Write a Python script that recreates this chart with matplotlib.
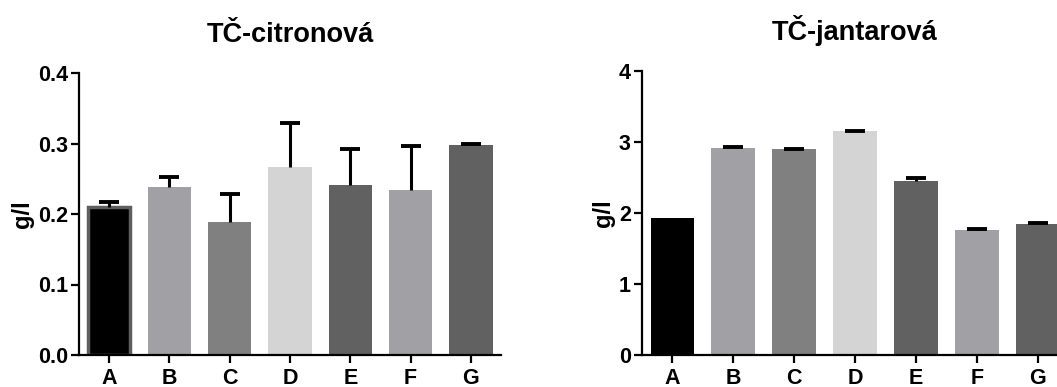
import numpy as np
import matplotlib
matplotlib.use('Agg')
import matplotlib.pyplot as plt

plt.rcParams['font.family'] = ['Liberation Sans', 'DejaVu Sans']
plt.rcParams['font.weight'] = 'bold'

# data
categories = ['A', 'B', 'C', 'D', 'E', 'F', 'G']
citronova = [0.210, 0.238, 0.189, 0.266, 0.241, 0.234, 0.298]
citronova_err = [0.0075, 0.0145, 0.040, 0.063, 0.051, 0.062, 0.0008]
jantarova = [1.93, 2.915, 2.895, 3.155, 2.455, 1.756, 1.85]
jantarova_err = [0.0, 0.01, 0.01, 0.004, 0.04, 0.02, 0.015]

colors = ['#000000', '#a1a0a4', '#808080', '#d4d4d4', '#616161', '#a1a0a4', '#616161']

fig = plt.figure(figsize=(10.57, 3.87), dpi=100)
ax1 = fig.add_axes([79 / 1057, 32 / 387, 422 / 1057, 282 / 387])
ax2 = fig.add_axes([642 / 1057, 32 / 387, 426 / 1057, 284 / 387])


def draw(ax, vals, errs, title, ymax, yticks, ytlabels, first_edge):
    x = np.arange(len(categories))
    vals = np.array(vals)
    errs = np.array(errs)
    bars = ax.bar(x, vals, width=0.72, color=colors, zorder=2)
    if first_edge:
        bars[0].set_edgecolor('#5f5f5f')
        bars[0].set_linewidth(2.5)
        bars[0].set_width(0.69)
        bars[0].set_x(-0.345)
    # upper error bars only (line + cap on top)
    m = errs > 0
    ax.vlines(x[m], vals[m], vals[m] + errs[m], color='black', linewidth=2.2, zorder=3)
    ax.plot(x[m], vals[m] + errs[m], linestyle='none', marker='_', markersize=14,
            markeredgewidth=2.8, color='black', zorder=3)
    ax.set_xlim(-0.5, 6.5)
    ax.set_ylim(0, ymax)
    ax.set_xticks(x)
    ax.set_xticklabels(categories)
    ax.set_yticks(yticks)
    ax.set_yticklabels(ytlabels)
    for s in ['top', 'right']:
        ax.spines[s].set_visible(False)
    for s in ['left', 'bottom']:
        ax.spines[s].set_linewidth(1.6)
    ax.tick_params(axis='both', width=1.6, length=6, labelsize=15.5)
    ax.tick_params(axis='x', pad=3)
    ax.tick_params(axis='y', pad=2)
    ax.set_ylabel('g/l', fontsize=17, fontweight='bold', labelpad=3)
    ax.set_title(title, fontsize=19.5, fontweight='bold', pad=22)


draw(ax1, citronova, citronova_err, 'TČ-citronová', 0.4,
     [0, 0.1, 0.2, 0.3, 0.4], ['0.0', '0.1', '0.2', '0.3', '0.4'], True)
draw(ax2, jantarova, jantarova_err, 'TČ-jantarová', 4,
     [0, 1, 2, 3, 4], ['0', '1', '2', '3', '4'], False)

fig.savefig('out.png', dpi=100)
